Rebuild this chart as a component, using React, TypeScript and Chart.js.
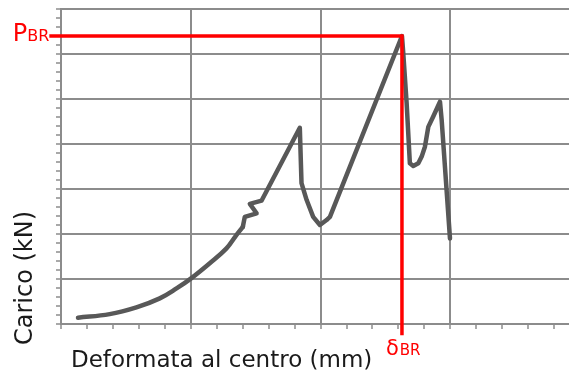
import React, { useEffect, useRef } from "react";
import { Chart, registerables } from "chart.js";

Chart.register(...registerables);

// Initial smooth loading branch: deflection (mm) and load (kN)
const elasticDeflectionMm = [1.31, 3.75, 5.81, 7.61, 8.9, 10.05, 11.46, 12.75, 13.47, 14.01];
const elasticLoadKn = [0.14, 0.22, 0.37, 0.57, 0.79, 1.02, 1.35, 1.68, 1.96, 2.16];

// Cracking / post-peak branch: deflection (mm) and load (kN)
const crackDeflectionMm = [
  14.01, 14.16, 15.07, 14.55, 15.45, 18.4, 18.53, 18.92, 19.43, 19.95, 20.46,
  20.72, 26.27, 26.37, 26.63, 26.88, 27.14, 27.53, 27.79, 28.04, 28.3, 28.68,
  29.2, 29.33, 29.97,
];
const crackLoadKn = [
  2.16, 2.38, 2.46, 2.67, 2.74, 4.36, 3.13, 2.76, 2.38, 2.2, 2.31, 2.38, 6.4,
  6.02, 4.91, 3.57, 3.51, 3.57, 3.72, 3.94, 4.38, 4.61, 4.94, 4.53, 1.9,
];

// Peak values (breaking load / deflection at break)
const pBr = 6.4;
const deltaBr = 26.27;
const refLineStartX = -0.9;
const refLineEndY = -0.25;

const xRange = [0, 39.14];
const yRange = [0, 7];
const xMajorStep = 10;
const xMinorStep = 2;
const yMajorStep = 1;
const yMinorStep = 0.2;

const xTitle = "Deformata al centro (mm)";
const yTitle = "Carico (kN)";
const pLabel = ["P", "BR"];
const dLabel = ["δ", "BR"];

const GRID = "#8c8c8c";
const CURVE = "#585858";
const RED = "#ff0000";
const FONT = "'DejaVu Sans', sans-serif";

const isMajor = (v: number, step: number) =>
  Math.abs(v / step - Math.round(v / step)) < 1e-6;

const labelsPlugin = {
  id: "labels",
  afterDraw(chart: any) {
    const { ctx, chartArea, scales } = chart;
    const xs = scales.x;
    const ys = scales.y;
    ctx.save();
    ctx.fillStyle = "#1a1a1a";
    ctx.textBaseline = "alphabetic";
    // x title
    ctx.font = `23px ${FONT}`;
    ctx.textAlign = "left";
    ctx.fillText(xTitle, chartArea.left + 10, chartArea.bottom + 43);
    // y title
    ctx.save();
    ctx.translate(chartArea.left - 29, chartArea.bottom + 21);
    ctx.rotate(-Math.PI / 2);
    ctx.font = `24px ${FONT}`;
    ctx.fillText(yTitle, 0, 0);
    ctx.restore();

    // P_BR
    ctx.fillStyle = RED;
    const py = ys.getPixelForValue(pBr) + 5;
    const lineStart = xs.getPixelForValue(refLineStartX);
    ctx.font = `16px ${FONT}`;
    ctx.textAlign = "right";
    ctx.fillText(pLabel[1], lineStart, py);
    const wBR = ctx.measureText(pLabel[1]).width;
    ctx.font = `24px ${FONT}`;
    ctx.fillText(pLabel[0], lineStart - wBR, py);

    // δ_BR
    const dx = xs.getPixelForValue(deltaBr);
    const dy = chartArea.bottom + 31;
    ctx.textAlign = "left";
    ctx.font = `21px ${FONT}`;
    ctx.fillText(dLabel[0], dx - 16, dy);
    const wd = ctx.measureText(dLabel[0]).width;
    ctx.font = `15px ${FONT}`;
    ctx.fillText(dLabel[1], dx - 16 + wd + 1, dy);
    ctx.restore();
  },
};

export default function App() {
  const canvasRef = useRef<HTMLCanvasElement | null>(null);

  useEffect(() => {
    const canvas = canvasRef.current;
    if (!canvas) return;
    const elastic = elasticDeflectionMm.map((x, i) => ({ x, y: elasticLoadKn[i] }));
    const crack = crackDeflectionMm.map((x, i) => ({ x, y: crackLoadKn[i] }));
    const refLine = [
      { x: refLineStartX, y: pBr },
      { x: deltaBr, y: pBr },
      { x: deltaBr, y: refLineEndY },
    ];
    const curveStyle = {
      borderColor: CURVE,
      borderWidth: 4.5,
      pointRadius: 0,
      borderCapStyle: "round" as const,
      borderJoinStyle: "round" as const,
    };
    const chart = new Chart(canvas, {
      type: "line",
      data: {
        datasets: [
          {
            data: refLine,
            borderColor: RED,
            borderWidth: 3.5,
            pointRadius: 0,
            tension: 0,
            clip: false as any,
            borderJoinStyle: "miter",
          },
          { data: elastic, tension: 0.4, ...curveStyle },
          { data: crack, tension: 0, ...curveStyle },
        ],
      },
      options: {
        animation: false,
        responsive: false,
        devicePixelRatio: 1,
        parsing: false as any,
        layout: { padding: { left: 0, top: 9, right: 0, bottom: 0 } },
        plugins: { legend: { display: false }, tooltip: { enabled: false }, title: { display: false } },
        scales: {
          x: {
            type: "linear",
            min: xRange[0],
            max: xRange[1],
            afterFit: (s: any) => {
              s.height = 48;
            },
            ticks: { display: false, stepSize: xMinorStep, includeBounds: false },
            grid: {
              color: (c: any) => (isMajor(c.tick?.value ?? 1, xMajorStep) ? GRID : "rgba(0,0,0,0)"),
              tickColor: GRID,
              lineWidth: 2,
              tickLength: 5,
              tickWidth: 1.5,
            },
            border: { color: GRID, width: 2 },
          },
          y: {
            type: "linear",
            min: yRange[0],
            max: yRange[1],
            afterFit: (s: any) => {
              s.width = 61;
            },
            ticks: { display: false, stepSize: yMinorStep, includeBounds: false },
            grid: {
              color: (c: any) => (isMajor(c.tick?.value ?? 0.5, yMajorStep) ? GRID : "rgba(0,0,0,0)"),
              tickColor: GRID,
              lineWidth: 2,
              tickLength: 5,
              tickWidth: 1.5,
            },
            border: { color: GRID, width: 2 },
          },
        },
      },
      plugins: [labelsPlugin],
    });
    return () => chart.destroy();
  }, []);

  return (
    <div style={{ position: "fixed", left: 0, top: 0, width: 569, height: 372, background: "#fff" }}>
      <canvas ref={canvasRef} width={569} height={372} style={{ display: "block" }} />
    </div>
  );
}
